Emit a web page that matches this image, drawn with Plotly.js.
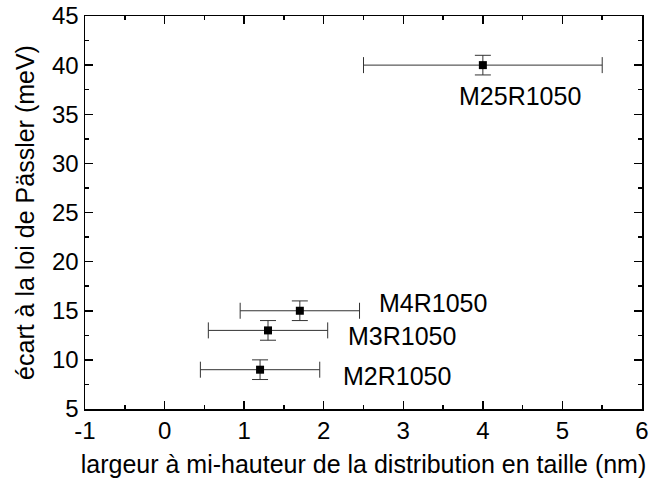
<!DOCTYPE html>
<html>
<head>
<meta charset="utf-8">
<script src="https://cdn.plot.ly/plotly-3.0.1.min.js"></script>
<style>html,body{margin:0;padding:0;background:#fff;}#chart{width:657px;height:489px;}</style>
</head>
<body>
<div id="chart"></div>
<script>
// Data
var sampleNames = ["M2R1050", "M3R1050", "M4R1050", "M25R1050"];
var fwhmSize = [1.2, 1.3, 1.7, 4.0];          // nm
var fwhmErr = [0.75, 0.75, 0.75, 1.5];        // nm
var deviation = [9, 13, 15, 40];              // meV
var deviationErr = [1, 1, 1, 1];              // meV
var labelX = [2.92, 2.99, 3.37, 4.47];
var labelY = [8.4, 12.4, 15.84, 36.86];
var xTickVals = [-1, 0, 1, 2, 3, 4, 5, 6];
var xTickText = ["-1", "0", "1", "2", "3", "4", "5", "6"];

var FONT = "Liberation Sans, Arial, Helvetica, sans-serif";

var trace = {
  x: fwhmSize,
  y: deviation,
  type: "scatter",
  mode: "markers",
  marker: {symbol: "square", size: 8, color: "#000"},
  error_x: {type: "data", array: fwhmErr, visible: true, color: "#333", thickness: 1, width: 8},
  error_y: {type: "data", array: deviationErr, visible: true, color: "#333", thickness: 1, width: 8},
  showlegend: false,
  hoverinfo: "skip"
};

var annotations = sampleNames.map(function (n, i) {
  return {x: labelX[i], y: labelY[i], xref: "x", yref: "y", text: n, showarrow: false,
          xanchor: "center", yanchor: "middle", font: {family: FONT, size: 25, color: "#000"}};
});

var axisCommon = {
  showgrid: false, zeroline: false, showline: true, linecolor: "#000", linewidth: 1.5,
  mirror: "allticks", ticks: "inside", ticklen: 8, tickwidth: 1.5, tickcolor: "#000",
  tickfont: {family: FONT, size: 24, color: "#000"}
};

var layout = {
  width: 657, height: 489,
  margin: {l: 85, r: 15, t: 16, b: 80},
  paper_bgcolor: "#fff", plot_bgcolor: "#fff",
  font: {family: FONT, color: "#000"},
  xaxis: Object.assign({}, axisCommon, {
    range: [-1, 6], tickmode: "array", tickvals: xTickVals, ticktext: xTickText,
    minor: {dtick: 0.5, tick0: -1, ticks: "inside", ticklen: 4, tickwidth: 1.5, tickcolor: "#000", showgrid: false},
    title: {text: "largeur à mi-hauteur de la distribution en taille (nm)", font: {family: FONT, size: 25, color: "#000"}, standoff: 12}
  }),
  yaxis: Object.assign({}, axisCommon, {
    range: [5, 45], dtick: 5, tick0: 5,
    minor: {dtick: 2.5, ticks: "inside", ticklen: 4, tickwidth: 1.5, tickcolor: "#000", showgrid: false},
    title: {text: "écart à la loi de Pässler (meV)", font: {family: FONT, size: 25, color: "#000"}, standoff: 10}
  }),
  annotations: annotations
};

Plotly.newPlot("chart", [trace], layout, {displayModeBar: false, staticPlot: true});
</script>
</body>
</html>
